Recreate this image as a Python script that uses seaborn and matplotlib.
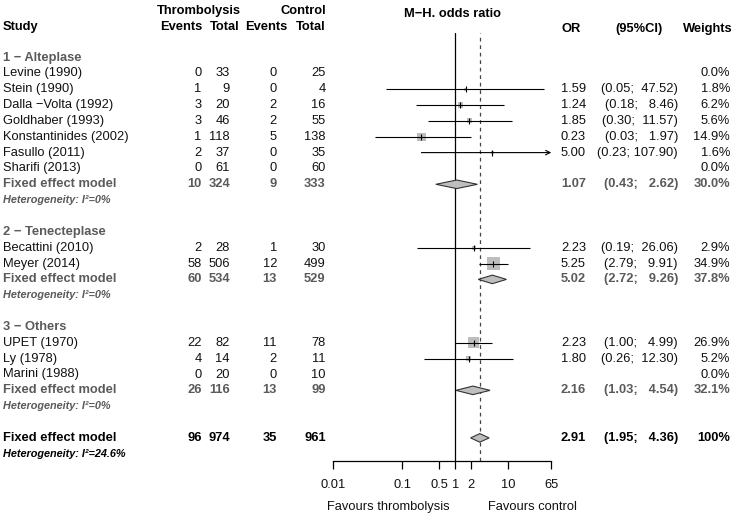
import numpy as np
import pandas as pd
import matplotlib
matplotlib.use("Agg")
import matplotlib.pyplot as plt
import seaborn as sns
from matplotlib import transforms

# ---------------- data ----------------
group_names = ["1 \u2212 Alteplase", "2 \u2212 Tenecteplase", "3 \u2212 Others"]
studies = ["Levine (1990)", "Stein (1990)", "Dalla \u2212Volta (1992)", "Goldhaber (1993)",
           "Konstantinides (2002)", "Fasullo (2011)", "Sharifi (2013)",
           "Becattini (2010)", "Meyer (2014)",
           "UPET (1970)", "Ly (1978)", "Marini (1988)"]
study_group = [0, 0, 0, 0, 0, 0, 0, 1, 1, 2, 2, 2]
events_t = [0, 1, 3, 3, 1, 2, 0, 2, 58, 22, 4, 0]
total_t = [33, 9, 20, 46, 118, 37, 61, 28, 506, 82, 14, 20]
events_c = [0, 0, 2, 2, 5, 0, 0, 1, 12, 11, 2, 0]
total_c = [25, 4, 16, 55, 138, 35, 60, 30, 499, 78, 11, 10]
odds_ratio = [np.nan, 1.59, 1.24, 1.85, 0.23, 5.00, np.nan, 2.23, 5.25, 2.23, 1.80, np.nan]
ci_lower = [np.nan, 0.05, 0.18, 0.30, 0.03, 0.23, np.nan, 0.19, 2.79, 1.00, 0.26, np.nan]
ci_upper = [np.nan, 47.52, 8.46, 11.57, 1.97, 107.90, np.nan, 26.06, 9.91, 4.99, 12.30, np.nan]
weights = [0.0, 1.8, 6.2, 5.6, 14.9, 1.6, 0.0, 2.9, 34.9, 26.9, 5.2, 0.0]

sub_events_t = [10, 60, 26]
sub_total_t = [324, 534, 116]
sub_events_c = [9, 13, 13]
sub_total_c = [333, 529, 99]
sub_or = [1.07, 5.02, 2.16]
sub_lower = [0.43, 2.72, 1.03]
sub_upper = [2.62, 9.26, 4.54]
sub_weight = [30.0, 37.8, 32.1]
sub_i2 = ["0%", "0%", "0%"]

all_events_t, all_total_t, all_events_c, all_total_c = 96, 974, 35, 961
all_or, all_lower, all_upper, all_weight = 2.91, 1.95, 4.36, "100%"
all_i2 = "24.6%"

tick_values = [0.005, 0.1, 0.5, 1, 2, 10, 65]
tick_labels = ["0.01", "0.1", "0.5", "1", "2", "10", "65"]

# ---------------- style ----------------
sns.set_theme(style="white")
plt.rcParams["font.family"] = ["Liberation Sans", "DejaVu Sans"]
FS = 9.25
HFS = 7.8
GREY = "#5a5a5a"

W, H = 740, 515
fig = plt.figure(figsize=(W / 100, H / 100), dpi=100)
row0_px, row_step = 57.5, 15.85
ax_top_px, ax_bot_px = 33, 460.7
ax_l_px, ax_r_px = 333.3, 551.3
ax = fig.add_axes([ax_l_px / W, 1 - ax_bot_px / H, (ax_r_px - ax_l_px) / W, (ax_bot_px - ax_top_px) / H])
ax.set_xscale("log")
ax.set_xlim(tick_values[0], tick_values[-1])
ax.set_ylim((ax_bot_px - row0_px) / row_step, (ax_top_px - row0_px) / row_step)

# ---------------- row layout ----------------
rows = []  # (kind, index)
for g in range(len(group_names)):
    rows.append(("group", g))
    for i, sg in enumerate(study_group):
        if sg == g:
            rows.append(("study", i))
    rows.append(("sub", g))
    rows.append(("het", g))
    rows.append(("blank", g))
rows.append(("overall", 0))
rows.append(("ohet", 0))

study_row = {}
sub_row = {}
overall_row = None
for r, (kind, idx) in enumerate(rows):
    if kind == "study":
        study_row[idx] = r
    elif kind == "sub":
        sub_row[idx] = r
    elif kind == "overall":
        overall_row = r

df = pd.DataFrame({"study": studies, "OR": odds_ratio, "lo": ci_lower, "hi": ci_upper,
                   "w": weights, "row": [study_row[i] for i in range(len(studies))]})
dfe = df.dropna(subset=["OR"])

# ---------------- forest panel ----------------
xmax = tick_values[-1]
wmin, wmax = dfe["w"].min(), dfe["w"].max()
k = 2.4
sns.scatterplot(data=dfe, x="OR", y="row", size="w", sizes=(k * wmin, k * wmax),
                size_norm=(wmin, wmax), marker="s", color="#bdbdbd", edgecolor="none",
                linewidth=0, legend=False, ax=ax, zorder=2)
for _, rr in dfe.iterrows():
    if rr["hi"] > xmax:
        ax.annotate("", xy=(xmax, rr["row"]), xytext=(rr["lo"], rr["row"]),
                    arrowprops=dict(arrowstyle="->", color="black", lw=0.8,
                                    shrinkA=0, shrinkB=0, mutation_scale=8), zorder=3)
    else:
        ax.hlines(rr["row"], rr["lo"], rr["hi"], color="black", lw=0.8, zorder=3)
sns.scatterplot(data=dfe, x="OR", y="row", marker="|", s=14, color="black",
                linewidth=0.8, legend=False, ax=ax, zorder=4)

ax.axvline(1, color="black", lw=0.9, zorder=1)
ax.axvline(all_or, color="#444444", lw=0.9, ls=(0, (3, 3)), zorder=1)

dh = 0.27
def diamond(est, lo, hi, r):
    ax.fill([lo, est, hi, est], [r, r - dh, r, r + dh], facecolor="#bebebe",
            edgecolor="#333333", lw=0.8, zorder=5)

for g in range(len(group_names)):
    diamond(sub_or[g], sub_lower[g], sub_upper[g], sub_row[g])
diamond(all_or, all_lower, all_upper, overall_row)

for s in ["top", "left", "right"]:
    ax.spines[s].set_visible(False)
ax.spines["bottom"].set_color("black")
ax.spines["bottom"].set_linewidth(0.9)
ax.set_xticks(tick_values)
ax.set_xticklabels(tick_labels, fontsize=FS)
ax.xaxis.set_minor_locator(matplotlib.ticker.NullLocator())
ax.tick_params(axis="x", direction="out", length=6, width=0.9, color="black", pad=7,
               bottom=True, labelcolor="#111111")
ax.set_yticks([])
ax.set_xlabel("")
ax.set_ylabel("")
ax.grid(False)

# ---------------- text columns ----------------
tr = transforms.blended_transform_factory(fig.transFigure, ax.transData)

def t(xpx, row, s, ha="left", **kw):
    kw.setdefault("fontsize", FS)
    kw.setdefault("color", "#111111")
    ax.text(xpx / W, row, s, transform=tr, ha=ha, va="center", **kw)

col_name = 3
col_et, col_tt, col_ec, col_tc = 201.7, 230, 277, 325.7
col_or, col_ci, col_w = 586, 678, 730

def fmt_ci(lo, hi):
    u = "{:.2f}".format(hi)
    pad = " " * (6 - len(u))
    return "({:.2f};{}{})".format(lo, " " + pad if len(u) < 6 else " ", u)

for r, (kind, idx) in enumerate(rows):
    if kind == "group":
        t(col_name, r, group_names[idx], fontweight="bold", color=GREY)
    elif kind == "study":
        t(col_name, r, studies[idx])
        t(col_et, r, str(events_t[idx]), ha="right")
        t(col_tt, r, str(total_t[idx]), ha="right")
        t(col_ec, r, str(events_c[idx]), ha="right")
        t(col_tc, r, str(total_c[idx]), ha="right")
        if not np.isnan(odds_ratio[idx]):
            t(col_or, r, "{:.2f}".format(odds_ratio[idx]), ha="right")
            t(col_ci, r, fmt_ci(ci_lower[idx], ci_upper[idx]), ha="right")
        t(col_w, r, "{:.1f}%".format(weights[idx]), ha="right")
    elif kind == "sub":
        kw = dict(fontweight="bold", color=GREY)
        t(col_name, r, "Fixed effect model", **kw)
        t(col_et, r, str(sub_events_t[idx]), ha="right", **kw)
        t(col_tt, r, str(sub_total_t[idx]), ha="right", **kw)
        t(col_ec, r, str(sub_events_c[idx]), ha="right", **kw)
        t(col_tc, r, str(sub_total_c[idx]), ha="right", **kw)
        t(col_or, r, "{:.2f}".format(sub_or[idx]), ha="right", **kw)
        t(col_ci, r, fmt_ci(sub_lower[idx], sub_upper[idx]), ha="right", **kw)
        t(col_w, r, "{:.1f}%".format(sub_weight[idx]), ha="right", **kw)
    elif kind == "het":
        t(col_name, r, "Heterogeneity: I\u00b2=" + sub_i2[idx], fontsize=HFS,
          fontweight="bold", fontstyle="italic", color=GREY)
    elif kind == "overall":
        kw = dict(fontweight="bold", color="black")
        t(col_name, r, "Fixed effect model", **kw)
        t(col_et, r, str(all_events_t), ha="right", **kw)
        t(col_tt, r, str(all_total_t), ha="right", **kw)
        t(col_ec, r, str(all_events_c), ha="right", **kw)
        t(col_tc, r, str(all_total_c), ha="right", **kw)
        t(col_or, r, "{:.2f}".format(all_or), ha="right", **kw)
        t(col_ci, r, fmt_ci(all_lower, all_upper), ha="right", **kw)
        t(col_w, r, all_weight, ha="right", **kw)
    elif kind == "ohet":
        t(col_name, r, "Heterogeneity: I\u00b2=" + all_i2, fontsize=HFS,
          fontweight="bold", fontstyle="italic", color="black")

# ---------------- headers ----------------
def ft(xpx, ypx, s, ha="left", **kw):
    kw.setdefault("fontsize", FS)
    kw.setdefault("fontweight", "bold")
    kw.setdefault("color", "black")
    fig.text(xpx / W, 1 - ypx / H, s, ha=ha, va="center", **kw)

ft(240.7, 11, "Thrombolysis", ha="right")
ft(325.7, 11, "Control", ha="right")
ft(3, 27, "Study")
ft(202, 27, "Events", ha="right")
ft(240, 27, "Total", ha="right")
ft(287, 27, "Events", ha="right")
ft(325.7, 27, "Total", ha="right")
ft(452, 14, "M\u2212H. odds ratio", ha="center")
ft(561, 29, "OR")
ft(638.5, 29, "(95%CI)", ha="center")
ft(733, 29, "Weights", ha="right")

ft(388, 507, "Favours thrombolysis", ha="center", fontweight="normal", color="#111111")
ft(532, 507, "Favours control", ha="center", fontweight="normal", color="#111111")

fig.savefig("out.png", dpi=100, facecolor="white")
